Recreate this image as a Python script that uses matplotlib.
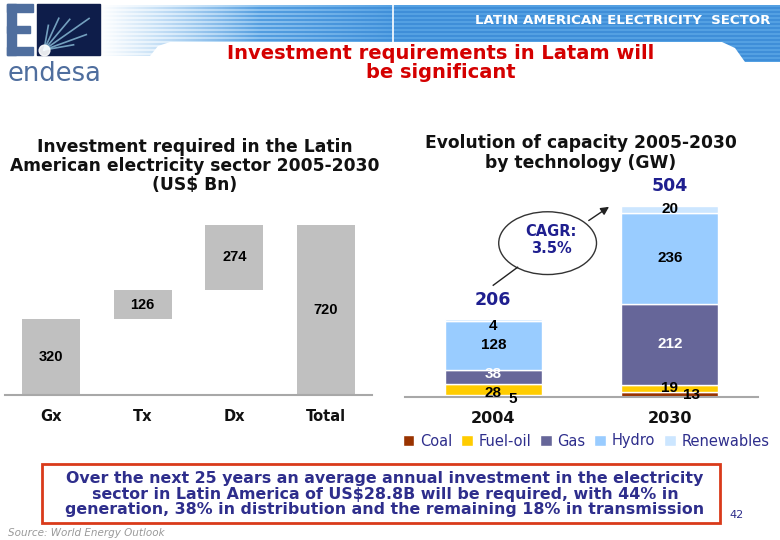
import numpy as np
import matplotlib
matplotlib.use("Agg")
import matplotlib.pyplot as plt
from matplotlib.patches import Rectangle, Ellipse, Polygon

W, H = 780, 540

# left panel: investment required 2005-2030 (US$ Bn), waterfall
INV_CATS = ["Gx", "Tx", "Dx", "Total"]
INV_VALUES = [320, 126, 274, 720]

# right panel: capacity by technology (GW)
CAP_YEARS = ["2004", "2030"]
TECHS = ["Coal", "Fuel-oil", "Gas", "Hydro", "Renewables"]
COAL = [5, 13]
FUEL_OIL = [28, 19]
GAS = [38, 212]
HYDRO = [128, 236]
RENEWABLES = [4, 20]
CAP_TOTALS = [206, 504]
CAGR_LABEL = "CAGR:\n3.5%"

GREY_BAR = "#c0c0c0"
AXIS = "#a8a8a8"
NAVY = "#1f1f8f"
TXT_NAVY = "#2e2e8c"
RED = "#d40000"
STEEL = "#4f6e9e"
TECH_COLORS = ["#993300", "#ffcc00", "#666699", "#99ccff", "#cce6ff"]
LABEL_COLORS = ["black", "black", "white", "black", "black"]

plt.rcParams["font.family"] = ["DejaVu Sans"]

fig = plt.figure(figsize=(7.8, 5.4), dpi=100)
fig.patch.set_facecolor("white")

# background axes in pixel coordinates for header / footer decoration
bg = fig.add_axes([0, 0, 1, 1])
bg.set_xlim(0, W)
bg.set_ylim(H, 0)
bg.axis("off")

# --- header banner ---
bw, bh = 680, 57
xs = np.arange(bw)[None, :]
rows = np.arange(bh)[:, None]
stripe = (rows % 4) < 2
light = np.array([0.70, 0.85, 0.97])
mid = np.array([0.38, 0.66, 0.90])
right_lt = np.array([0.33, 0.63, 0.89])
right_dk = np.array([0.25, 0.56, 0.85])
img = np.ones((bh, bw, 4))
t = np.clip((xs - 60) / 240.0, 0, 1)[..., None]
left_col = np.where(stripe[..., None], light, mid)
right_col = np.where(stripe[..., None], right_lt, right_dk)
img[..., :3] = left_col * (1 - t) + right_col * t
img[..., 3] = np.clip(xs / 160.0, 0, 1)
im = bg.imshow(img, extent=(100, 780, 62, 5), aspect="auto", zorder=1,
               interpolation="bilinear")
clip = Polygon([(100, 5), (780, 5), (780, 62), (745, 62), (735, 48),
                (722, 42), (170, 42), (158, 46), (150, 56), (100, 56)],
               closed=True, transform=bg.transData)
im.set_clip_path(clip)
bg.plot([393, 393], [5, 62], color="white", lw=1.2, zorder=2)
bg.text(770, 21, "LATIN AMERICAN ELECTRICITY  SECTOR", color="white",
        fontsize=9.6, fontweight="bold", ha="right", va="center", zorder=3)

# --- logo ---
for x0, y0, w, h in [(7, 4, 9, 51), (7, 4, 26, 8), (7, 26, 23, 7), (7, 47, 26, 8)]:
    bg.add_patch(Rectangle((x0, y0), w, h, color=STEEL, zorder=2))
bg.add_patch(Rectangle((37, 4), 63, 51, color="#0e1d4a", zorder=2))
for ang, ln in [(20, 45), (35, 55), (50, 40), (65, 35), (10, 30), (80, 25)]:
    a = np.deg2rad(ang)
    bg.plot([44, 44 + ln * np.cos(a)], [50, 50 - ln * np.sin(a)],
            color="#9fd8f0", lw=1.2, alpha=0.7, zorder=3)
bg.scatter([44], [50], s=60, color="white", alpha=0.9, zorder=4)
bg.text(8, 74, "endesa", color=STEEL, fontsize=18.5, ha="left", va="center")

# --- main title ---
bg.text(441, 63, "Investment requirements in Latam will\nbe significant",
        color=RED, fontsize=14, fontweight="bold", ha="center", va="center",
        linespacing=1.05)

# --- panel titles ---
bg.text(195, 166, "Investment required in the Latin\nAmerican electricity sector 2005-2030\n(US$ Bn)",
        fontsize=12.3, fontweight="bold", color="#111111", ha="center",
        va="center", linespacing=1.1)
bg.text(581, 153, "Evolution of capacity 2005-2030\nby technology (GW)",
        fontsize=12.3, fontweight="bold", color="#111111", ha="center",
        va="center", linespacing=1.1)

# --- left chart: waterfall ---
ax1 = fig.add_axes([5 / W, 1 - 395 / H, 367 / W, 195 / H])
ax1.patch.set_alpha(0)
bottoms = [0, INV_VALUES[0], INV_VALUES[0] + INV_VALUES[1], 0]
x1 = np.arange(len(INV_CATS))
ax1.bar(x1, INV_VALUES, bottom=bottoms, width=0.63, color=GREY_BAR, zorder=2)
for xi, v, b in zip(x1, INV_VALUES, bottoms):
    ax1.text(xi, b + v / 2, f"{v}", ha="center", va="center", fontsize=10.5,
             fontweight="bold", family=["Liberation Sans", "DejaVu Sans"])
ax1.set_xlim(-0.5, 3.5)
ax1.set_ylim(0, 826)
ax1.set_yticks([])
ax1.set_xticks(x1, INV_CATS, fontsize=10.5, fontweight="bold")
ax1.tick_params(axis="x", length=0, pad=10, colors="#111111")
ax1.spines[["top", "right", "left"]].set_visible(False)
ax1.spines["bottom"].set_color(AXIS)
ax1.spines["bottom"].set_linewidth(1.5)

# --- right chart: stacked capacity ---
ax2 = fig.add_axes([405 / W, 1 - 397 / H, 353 / W, 217 / H])
ax2.patch.set_alpha(0)
x2 = np.arange(len(CAP_YEARS))
series = [COAL, FUEL_OIL, GAS, HYDRO, RENEWABLES]
# nudges (points) for labels of thin segments
offsets = {(0, 0): (14, -2), (0, 1): (16, 0), (1, 0): (0, -2),
           (2, 0): (0, 2), (4, 0): (0, -4)}
base = np.zeros(len(CAP_YEARS))
handles = []
for k, (name, vals, c) in enumerate(zip(TECHS, series, TECH_COLORS)):
    vals = np.array(vals, dtype=float)
    h = ax2.bar(x2, vals, bottom=base, width=0.55, color=c, edgecolor="white",
                linewidth=1, label=name, zorder=2)
    handles.append(h)
    for j in range(len(CAP_YEARS)):
        dx, dy = offsets.get((k, j), (0, 0))
        ax2.annotate(f"{int(vals[j])}", (x2[j], base[j] + vals[j] / 2),
                     xytext=(dx, dy), textcoords="offset points",
                     ha="center", va="center", fontsize=11, fontweight="bold",
                     color=LABEL_COLORS[k], zorder=4,
                     family=["Liberation Sans", "DejaVu Sans"])
    base = base + vals
for j, tot in enumerate(CAP_TOTALS):
    ax2.annotate(f"{tot}", (x2[j], base[j]), xytext=(0, 14),
                 textcoords="offset points", ha="center", va="center",
                 fontsize=12.5, fontweight="bold", color=NAVY)

# CAGR bubble and arrows
ex, ey = 0.308, 402
ax2.add_patch(Ellipse((ex, ey), 0.554, 164, facecolor="white",
                      edgecolor="#333333", lw=1, zorder=3, clip_on=False))
ax2.text(ex + 0.02, ey + 8, CAGR_LABEL, ha="center", va="center", fontsize=10.5,
         fontweight="bold", color=NAVY, zorder=4, linespacing=1.1)
ax2.plot([0.0, 0.138], [base[0] + 89, 339], color="#222222", lw=1, zorder=3)
ax2.annotate("", xy=(0.669, base[1] + 1), xytext=(0.528, 457),
             arrowprops=dict(arrowstyle="-|>", color="#222222", lw=1,
                             mutation_scale=12), zorder=3)

ax2.set_xlim(-0.5, 1.5)
ax2.set_ylim(0, 567)
ax2.set_yticks([])
ax2.set_xticks(x2, CAP_YEARS, fontsize=11.5, fontweight="bold")
ax2.tick_params(axis="x", length=0, pad=10, colors="#111111")
ax2.spines[["top", "right", "left"]].set_visible(False)
ax2.spines["bottom"].set_color(AXIS)
ax2.spines["bottom"].set_linewidth(1.5)

fig.legend(handles=handles, labels=TECHS, loc="center",
           bbox_to_anchor=(586 / W, 1 - 441 / H), ncol=5, frameon=False,
           fontsize=10.5, labelcolor=TXT_NAVY, handlelength=0.8,
           handleheight=0.8, handletextpad=0.4, columnspacing=0.6,
           borderaxespad=0, borderpad=0)

# --- conclusion box ---
bg.add_patch(Rectangle((42, 464), 678, 59, facecolor="white",
                       edgecolor="#d93a1a", lw=2, zorder=2))
bg.text(385, 494,
        "Over the next 25 years an average annual investment in the electricity\n"
        "sector in Latin America of US$28.8B will be required, with 44% in\n"
        "generation, 38% in distribution and the remaining 18% in transmission",
        ha="center", va="center", fontsize=11.4, fontweight="bold",
        color=TXT_NAVY, linespacing=1.05, zorder=3)
bg.text(737, 515, "42", fontsize=8, color=TXT_NAVY, ha="center", va="center")
bg.text(8, 533, "Source: World Energy Outlook", fontsize=7.5, style="italic",
        color="#999999", ha="left", va="center")

fig.savefig("out.png", dpi=100)
